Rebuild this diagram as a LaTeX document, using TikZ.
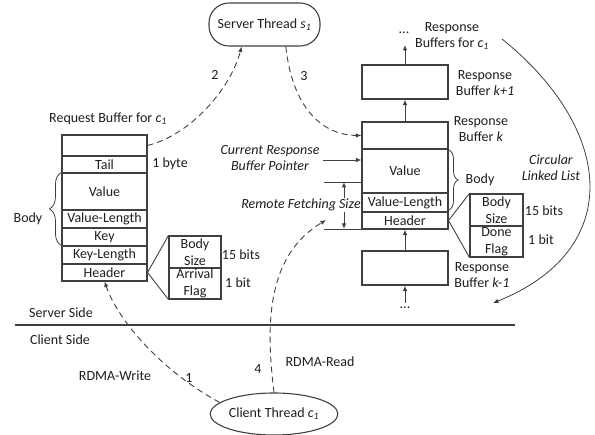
\documentclass[tikz,border=0pt]{standalone}
\usepackage{fontspec}
\setmainfont{Carlito}
\usetikzlibrary{arrows.meta,decorations.pathreplacing,shapes.geometric}
\definecolor{lc}{RGB}{64,64,64}
\definecolor{tc}{RGB}{30,30,30}
\begin{document}
\begin{tikzpicture}[x=1pt,y=-1pt,
  font=\fontsize{14}{16}\selectfont, text=tc,
  ln/.style={draw=lc, line width=1.1pt},
  cell/.style={ln, rectangle, inner sep=0pt, minimum width=85pt},
  rcell/.style={ln, rectangle, inner sep=0pt, minimum width=86pt},
  sub/.style={ln, rectangle, inner sep=0pt, minimum width=52pt, align=center, font=\fontsize{14}{17}\selectfont},
  lbl/.style={inner sep=1pt, align=center},
  ilbl/.style={inner sep=1pt, align=center, font=\fontsize{14}{16}\selectfont\itshape},
  arr/.style={draw=lc, line width=0.9pt, -{Latex[length=5.5pt,width=4.5pt]}},
  dsh/.style={arr, dash pattern=on 6pt off 4pt},
  brc/.style={draw=lc, line width=0.8pt, decorate, decoration={brace, amplitude=#1}},
  thn/.style={draw=lc, line width=0.9pt}
]
\useasboundingbox (0,0) rectangle (595,435);

% threads
\node[ln, rectangle, rounded corners=20pt, minimum width=111pt, minimum height=43pt, inner sep=0pt] (st) at (264.5,24.5) {Server Thread \textit{s\textsubscript{1}}};
\node[ln, ellipse, minimum width=118pt, minimum height=42pt, inner sep=0pt] (ct) at (274,414) {Client Thread \textit{c\textsubscript{1}}};

% request buffer
\node[lbl] (rqlab) at (108,119) {Request Buffer for \textit{c\textsubscript{1}}};
\node[cell, minimum height=21pt] (rq0) at (104.5,145.5) {};
\node[cell, minimum height=17pt] (rqtail) at (104.5,164.5) {Tail};
\node[cell, minimum height=37pt] (rqval) at (104.5,191.5) {Value};
\node[cell, minimum height=18pt] (rqvl) at (104.5,219) {Value-Length};
\node[cell, minimum height=18pt] (rqkey) at (104.5,237) {Key};
\node[cell, minimum height=18pt] (rqkl) at (104.5,255) {Key-Length};
\node[cell, minimum height=17pt] (rqhdr) at (104.5,272.5) {Header};
\node[lbl] (byte) at (170,164) {1 byte};
\node[sub, minimum height=32pt] (rqbs) at (195,252) {Body\\Size};
\node[sub, minimum height=31pt] (rqaf) at (195,283.5) {Arrival\\Flag};
\node[lbl] (rq15) at (241,255) {15 bits};
\node[lbl] (rq1) at (238,283) {1 bit};
\draw[thn] (rqbs.north west) -- (rqhdr.east) -- (rqaf.south west);
\draw[brc=12pt] (rqkl.north west) -- (rqval.north west);
\node[lbl] (rqbody) at (28,219) {Body};

% response buffers
\node[rcell, minimum height=34pt] (rk1) at (405,82) {};
\node[rcell, minimum height=27pt] (rk0) at (405,135.5) {};
\node[rcell, minimum height=44pt] (rkval) at (405,171) {Value};
\node[rcell, minimum height=19pt] (rkvl) at (405,202.5) {Value-Length};
\node[rcell, minimum height=17pt] (rkhdr) at (405,220.5) {Header};
\node[rcell, minimum height=34pt] (rkm) at (405,268) {};
\node[lbl] (dtop) at (404,33) {...};
\node[lbl] (dbot) at (405,308) {...};
\draw[arr] (rk1.north) -- (405,45);
\draw[arr] (rk0.north) -- (rk1.south);
\draw[arr] (rkm.north) -- (rkhdr.south);
\draw[arr] (405,303) -- (rkm.south);
\node[lbl] (rblab) at (452,36) {Response\\Buffers for \textit{c\textsubscript{1}}};
\node[lbl] (rk1lab) at (485,83) {Response\\Buffer \textit{k+1}};
\node[lbl] (rk0lab) at (481,129) {Response\\Buffer \textit{k}};
\node[lbl] (rkmlab) at (482,275.5) {Response\\Buffer \textit{k-1}};
\node[sub, minimum width=53pt, minimum height=32pt] (rkbs) at (496.5,210) {Body\\Size};
\node[sub, minimum width=53pt, minimum height=31pt] (rkdf) at (496.5,241.5) {Done\\Flag};
\node[lbl] (rk15) at (544,211) {15 bits};
\node[lbl] (rk1b) at (541,240) {1 bit};
\draw[thn] (rkbs.north west) -- (rkhdr.east) -- (rkdf.south west);
\draw[brc=9pt] (449,150) -- (449,210);
\node[lbl] (rkbody) at (480,180) {Body};

% pointer and fetching size
\node[ilbl] (cplab) at (270,158) {Current Response\\Buffer Pointer};
\coordinate (cp) at (323,160);
\draw[arr] (cp) -- (cp -| rkval.west);
\coordinate (rf1) at (324,182);
\coordinate (rf2) at (324,229);
\draw[thn] (rf1) -- (rf1 -| rkval.west);
\draw[thn] (rf2) -- (rf2 -| rkval.west);
\draw[draw=lc, line width=0.9pt, {Latex[length=5.5pt,width=4.5pt]}-{Latex[length=5.5pt,width=4.5pt]}] (344,182) -- (344,229);
\node[ilbl, fill=white, inner sep=0.5pt] (rflab) at (301,205) {Remote Fetching Size};

% circular linked list
\coordinate (cl1) at (502,39);
\coordinate (cl2) at (493,303);
\draw[arr, line width=0.8pt] (cl1) .. controls (615,130) and (625,250) .. (cl2);
\node[ilbl] (cllab) at (551,168) {Circular\\Linked List};

% sides
\coordinate (sl1) at (15,325);
\coordinate (sl2) at (515,325);
\draw[draw=lc, line width=1.3pt] (sl1) -- (sl2);
\node[lbl] (ss) at (61,313) {Server Side};
\node[lbl] (cs) at (60,340) {Client Side};

% dashed flows
\draw[dsh] (rq0.east) .. controls (190,135) and (230,90) .. (st.224);
\node[lbl] (n2) at (215,75) {2};
\draw[dsh] (st.-46) .. controls (292,105) and (320,135) .. (rk0.west);
\node[lbl] (n3) at (304,76) {3};
\draw[dsh] (ct.168) .. controls (160,370) and (118,320) .. (rqhdr.south);
\node[lbl] (n1) at (189,378) {1};
\node[lbl] (rw) at (115,376) {RDMA-Write};
\coordinate (rfend) at (326,220);
\draw[dsh] (ct.north) .. controls (265,320) and (268,255) .. (rfend);
\node[lbl] (n4) at (258,369) {4};
\node[lbl] (rr) at (320,362) {RDMA-Read};
\end{tikzpicture}
\end{document}
